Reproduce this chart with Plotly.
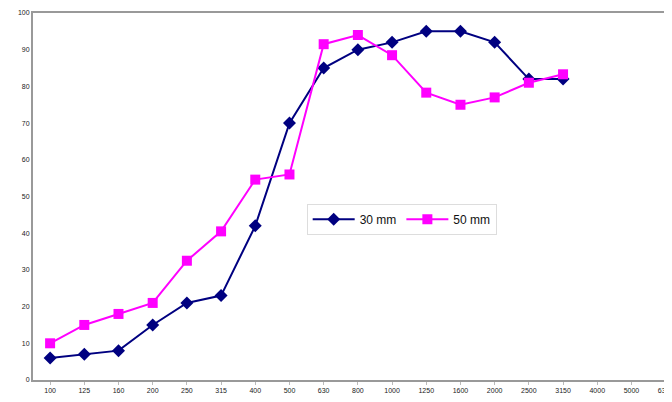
# plot.py
# Absorption curve, 30 mm vs 50 mm

import plotly.graph_objects as go

freqs = ["100", "125", "160", "200", "250", "315", "400", "500", "630", "800",
         "1000", "1250", "1600", "2000", "2500", "3150", "4000", "5000", "6300"]

mm30 = [6, 7, 8, 15, 21, 23, 42, 70, 85, 90, 92, 95, 95, 92, 82, 82]
mm50 = [10, 15, 18, 21, 32.5, 40.5, 54.6, 56, 91.5, 94, 88.5, 78.3, 75, 77, 81, 83.3]

yticks = list(range(0, 101, 10))

fig = go.Figure()

fig.add_trace(go.Scatter(
    x=freqs[:len(mm30)],
    y=mm30,
    name="30 mm",
    mode="lines+markers",
    line=dict(color="#000080", width=2),
    marker=dict(symbol="diamond", size=10, color="#000080")
))

fig.add_trace(go.Scatter(
    x=freqs[:len(mm50)],
    y=mm50,
    name="50 mm",
    mode="lines+markers",
    line=dict(color="#FF00FF", width=2),
    marker=dict(symbol="square", size=10, color="#FF00FF")
))

# page body adds ~8px offset, so margins are shifted to compensate
fig.update_layout(
    width=672,
    height=402,
    margin=dict(l=25, r=0, t=5, b=30),
    plot_bgcolor="white",
    paper_bgcolor="white",
    font=dict(family="Liberation Sans, Arial, sans-serif", size=7, color="#222222"),
    legend=dict(
        orientation="h",
        x=0.423,
        y=0.48,
        xanchor="left",
        yanchor="top",
        itemwidth=42,
        bgcolor="white",
        bordercolor="#dddddd",
        borderwidth=1,
        font=dict(size=12, color="#111111")
    ),
    xaxis=dict(
        type="category",
        categoryorder="array",
        categoryarray=freqs,
        tickvals=freqs,
        range=[-0.5, 18.42],
        automargin=False,
        showgrid=False,
        showline=True,
        linecolor="#999999",
        linewidth=2,
        mirror=True,
        ticks="outside",
        ticklen=3,
        tickcolor="#bbbbbb",
        zeroline=False
    ),
    yaxis=dict(
        range=[0, 100],
        tickvals=yticks,
        automargin=False,
        showgrid=False,
        showline=True,
        linecolor="#999999",
        linewidth=2,
        mirror=True,
        ticks="",
        zeroline=False
    )
)

fig.write_html("out.html")
